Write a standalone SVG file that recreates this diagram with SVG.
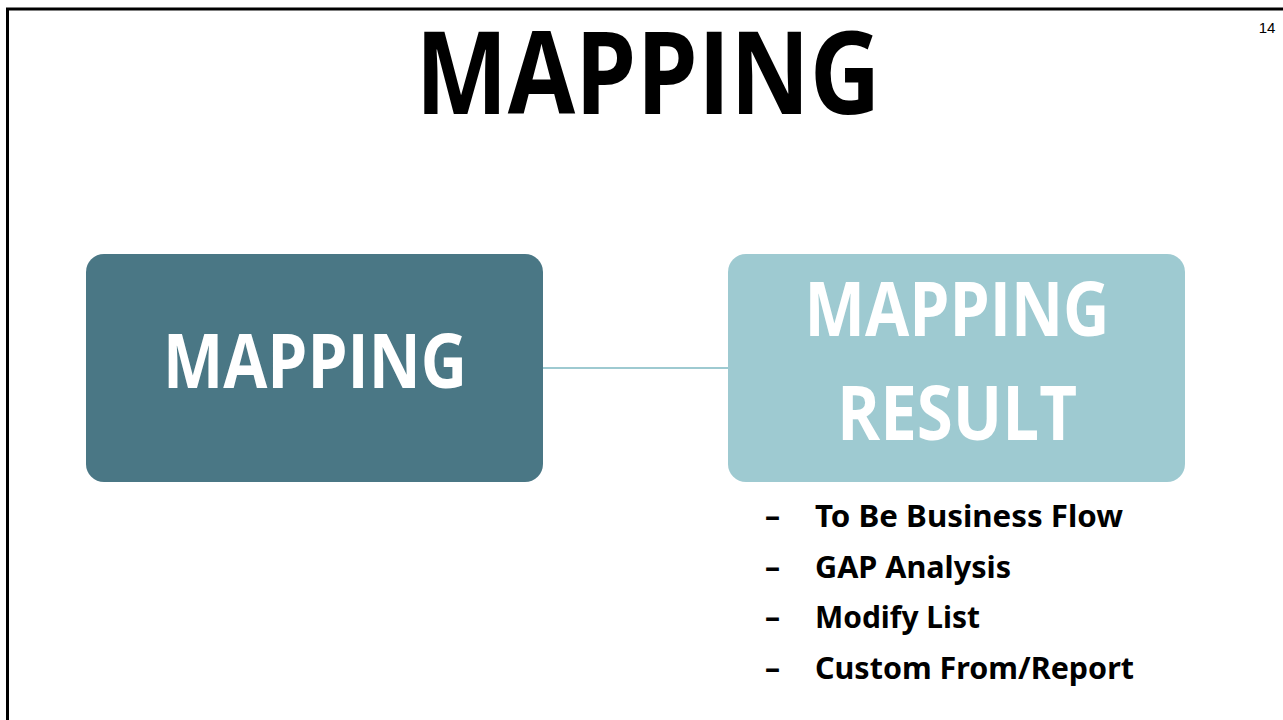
<svg xmlns="http://www.w3.org/2000/svg" width="1283" height="720" viewBox="0 0 1283 720">
<style>
.t{font-family:"Open Sans","Liberation Sans",sans-serif;font-weight:bold}
.w{fill:#ffffff;text-anchor:middle}
.b{font-family:"Noto Sans","Liberation Sans",sans-serif;font-weight:bold;font-size:30px;fill:#000}
</style>
<rect width="1283" height="720" fill="#fff"/>
<g id="frame">
<line x1="6" y1="9" x2="1283" y2="9" stroke="#000" stroke-width="3"/>
<line x1="7.5" y1="8" x2="7.5" y2="720" stroke="#000" stroke-width="3"/>
</g>
<text x="1267" y="33" font-family="Liberation Sans,Arial,sans-serif" font-size="15" text-anchor="middle" fill="#000">14</text>
<text class="t" x="648" y="114" font-size="114" text-anchor="middle" textLength="465" lengthAdjust="spacingAndGlyphs">MAPPING</text>
<g id="connectors">
<line x1="543" y1="368" x2="728" y2="368" stroke="#9ECAD1" stroke-width="2"/>
</g>
<g id="node-mapping">
<rect x="86" y="254" width="457" height="228" rx="18" fill="#4A7785"/>
<text class="t w" x="315" y="388" font-size="76" textLength="304" lengthAdjust="spacingAndGlyphs">MAPPING</text>
</g>
<g id="node-result">
<rect x="728" y="254" width="457" height="228" rx="18" fill="#9ECAD1"/>
<text class="t w" x="957" y="336" font-size="76" textLength="305" lengthAdjust="spacingAndGlyphs">MAPPING</text>
<text class="t w" x="957" y="440" font-size="76" textLength="240" lengthAdjust="spacingAndGlyphs">RESULT</text>
</g>
<g id="result-list">
<text class="b" x="765" y="527">–</text><text class="b" x="815" y="527" textLength="308" lengthAdjust="spacingAndGlyphs">To Be Business Flow</text>
<text class="b" x="765" y="578">–</text><text class="b" x="815" y="578" textLength="196" lengthAdjust="spacingAndGlyphs">GAP Analysis</text>
<text class="b" x="765" y="628">–</text><text class="b" x="815" y="628" textLength="165" lengthAdjust="spacingAndGlyphs">Modify List</text>
<text class="b" x="765" y="679">–</text><text class="b" x="815" y="679" textLength="319" lengthAdjust="spacingAndGlyphs">Custom From/Report</text>
</g>
</svg>
